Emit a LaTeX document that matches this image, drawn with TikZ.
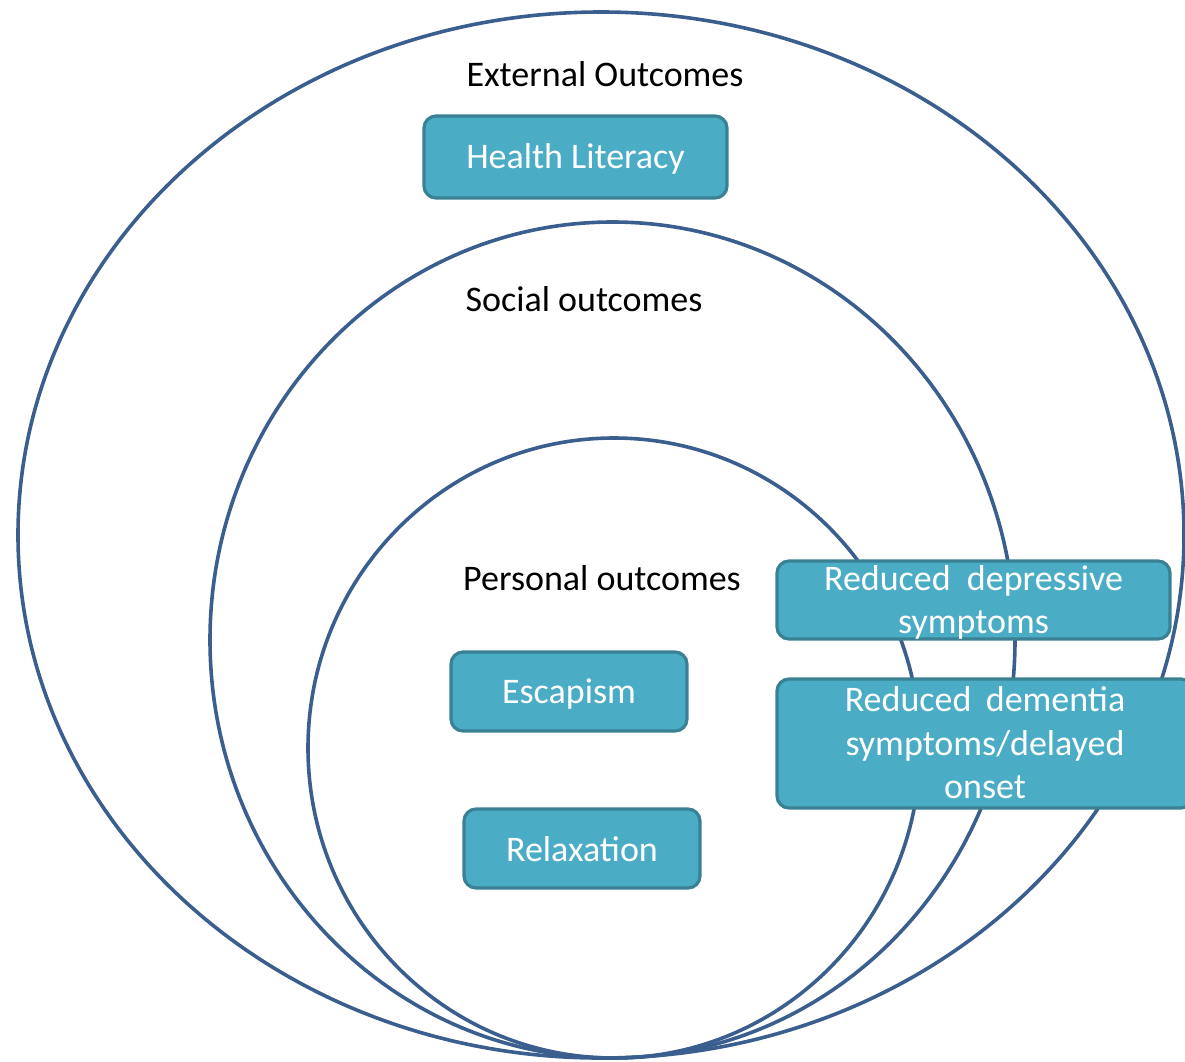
\documentclass[tikz,border=0pt]{standalone}
\usepackage{fontspec}
\setmainfont{Carlito}
\definecolor{ringblue}{HTML}{3A5F8E}
\definecolor{boxfill}{HTML}{4BACC6}
\definecolor{boxedge}{HTML}{3A8194}
\begin{document}
\begin{tikzpicture}[x=1pt,y=-1pt,
  ring/.style={draw=ringblue,line width=3.6pt},
  outbox/.style={draw=boxedge,fill=boxfill,line width=3.2pt,rounded corners=12pt,inner sep=0pt},
  boxtxt/.style={text=white,font=\fontsize{36}{43.3}\selectfont,align=center,inner sep=0pt,anchor=base},
  lbl/.style={font=\fontsize{36}{44}\selectfont,text=black,inner sep=0pt,anchor=base}]
\useasboundingbox (0,0) rectangle (1185,1061);
\clip (0,0) rectangle (1185,1061);
% rings
\draw[ring] (601,535) ellipse [x radius=583pt, y radius=523pt];
\draw[ring] (612.5,640) ellipse [x radius=402.5pt, y radius=418pt];
\draw[ring] (614,748) ellipse [x radius=306pt, y radius=310pt];
% labels
\node[lbl] (ext) at (605,86.7) {External Outcomes};
\node[lbl] (soc) at (584,311.7) {Social outcomes};
\node[lbl] (per) at (602,590) {Personal outcomes};
% boxes
\node[outbox,minimum width=303pt,minimum height=82pt] (hl) at (575.5,157) {};
\node[boxtxt] (hlt) at (575.5,168.3) {Health Literacy};
\node[outbox,minimum width=236pt,minimum height=79pt] (esc) at (569,691.5) {};
\node[boxtxt] (esct) at (569,703.3) {Escapism};
\node[outbox,minimum width=236pt,minimum height=79pt] (rel) at (582,848.5) {};
\node[boxtxt] (relt) at (582,861.7) {Relaxation};
\node[outbox,minimum width=393pt,minimum height=78pt] (dep) at (973.5,600) {};
\node[boxtxt] (dept) at (973.5,633.3) {Reduced\hspace{0.45em}depressive\\symptoms};
\node[outbox,minimum width=416pt,minimum height=129pt] (dem) at (985,743.5) {};
\node[boxtxt] (demt) at (985,798.3) {Reduced\hspace{0.4em}dementia\\symptoms/delayed\\onset};
\end{tikzpicture}
\end{document}
